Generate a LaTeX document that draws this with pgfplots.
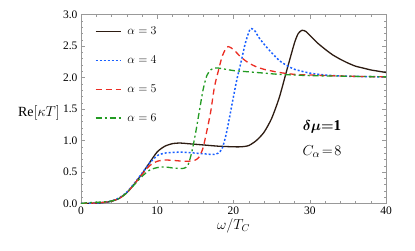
\documentclass[border=0pt]{standalone}
\usepackage{fontspec}
\setmainfont{Liberation Serif}
\usepackage{bm}
\usepackage{pgfplots}
\pgfplotsset{compat=1.18}
\usepackage{pgfplotstable}
\definecolor{cbrown}{RGB}{45,28,18}
\definecolor{cblue}{RGB}{25,95,255}
\definecolor{cred}{RGB}{235,45,35}
\definecolor{cgreen}{RGB}{35,155,35}
\pgfplotstableread{
w r
0 0
1 0.002
2 0.006
3 0.015
4 0.035
5 0.08
6 0.17
7 0.31
8 0.47
9 0.65
10 0.82
11 0.91
12 0.95
13 0.96
14 0.95
16 0.93
18 0.91
20 0.90
21 0.90
22 0.92
23 1.00
24 1.13
25 1.35
26 1.68
27 2.12
28 2.55
28.5 2.70
29 2.75
29.5 2.73
30 2.67
31 2.55
32 2.45
33 2.36
34 2.29
35 2.23
36 2.18
37 2.15
38 2.12
39 2.10
40 2.08
}\tabA
\pgfplotstableread{
w r
0 0
1 0.003
2 0.008
3 0.018
4 0.04
5 0.09
6 0.18
7 0.32
8 0.48
9 0.64
10 0.76
11 0.80
12 0.81
13 0.815
14 0.81
15 0.80
16 0.79
17 0.78
17.5 0.78
18 0.80
18.5 0.87
19 1.08
19.5 1.38
20 1.70
20.5 2.00
21 2.25
21.5 2.52
22 2.72
22.3 2.78
22.8 2.74
23.3 2.64
24 2.53
24.8 2.42
26 2.27
27 2.19
28 2.13
30 2.07
32 2.04
35 2.02
40 2.01
}\tabB
\pgfplotstableread{
w r
0 0
1 0.004
2 0.01
3 0.02
4 0.04
5 0.08
6 0.17
7 0.31
8 0.46
9 0.60
10 0.67
11 0.69
12 0.685
13 0.675
14 0.67
15 0.69
15.5 0.74
16 0.88
16.5 1.15
17 1.45
17.5 1.85
18 2.10
18.5 2.33
19 2.46
19.3 2.49
19.7 2.47
20.2 2.42
21 2.32
22 2.23
23 2.17
24 2.13
26 2.08
28 2.05
30 2.04
35 2.02
40 2.01
}\tabC
\pgfplotstableread{
w r
0 0
1 0.015
2 0.02
3 0.025
4 0.04
5 0.08
6 0.17
7 0.30
8 0.43
9 0.53
10 0.57
11 0.58
12 0.565
13 0.555
13.5 0.56
14 0.60
14.5 0.80
15 1.10
15.5 1.45
16 1.80
16.5 2.03
17 2.12
17.5 2.15
18 2.15
19 2.13
20 2.11
22 2.09
24 2.07
26 2.05
30 2.03
35 2.02
40 2.01
}\tabD
\begin{document}
\begin{tikzpicture}
\useasboundingbox (-81pt,-46.5pt) rectangle (334pt,203.5pt);
\begin{axis}[
  at={(0,0)}, anchor=south west,
  scale only axis, width=305pt, height=189pt,
  xmin=0, xmax=40, ymin=0, ymax=3,
  xtick={0,10,20,30,40}, ytick={0,0.5,1,1.5,2,2.5,3},
  minor x tick num=4, minor y tick num=4,
  tick align=inside, major tick length=4pt, minor tick length=2.5pt,
  axis line style={gray!80}, every tick/.style={gray!80},
  /pgf/number format/assume math mode=true,
  tick label style={font=\fontsize{11.5}{13}\selectfont},
  yticklabel style={/pgf/number format/fixed, /pgf/number format/fixed zerofill, /pgf/number format/precision=1},
  xlabel={$\omega/T_C$},
  xlabel style={font=\fontsize{14}{16}\selectfont, yshift=3pt},
  ylabel={$\mathrm{Re}[\kappa T]$},
  every axis y label/.style={at={(rel axis cs:0,0.48)}, anchor=east, xshift=-21pt, font=\fontsize{14}{16}\selectfont, inner sep=0pt},
  legend style={at={(rel axis cs:0.035,0.955)}, anchor=north west, draw=none, fill=none,
    font=\fontsize{12}{14}\selectfont, row sep=15.5pt},
  legend cell align=left,
  legend image code/.code={\draw[#1] plot coordinates {(0pt,0pt) (25pt,0pt)};},
]
\addplot[color=cbrown, line width=1.3pt, smooth, tension=0.4] table[x=w,y=r]{\tabA};
\addlegendentry{\hspace{4pt}$\alpha = 3$}
\addplot[color=cblue, line width=1.5pt, dash pattern=on 2pt off 2pt, smooth, tension=0.4] table[x=w,y=r]{\tabB};
\addlegendentry{\hspace{4pt}$\alpha = 4$}
\addplot[color=cred, line width=1.3pt, dash pattern=on 6pt off 4pt, smooth, tension=0.4] table[x=w,y=r]{\tabC};
\addlegendentry{\hspace{4pt}$\alpha = 5$}
\addplot[color=cgreen, line width=1.3pt, dash pattern=on 6pt off 3pt on 2pt off 3pt, smooth, tension=0.4] table[x=w,y=r]{\tabD};
\addlegendentry{\hspace{4pt}$\alpha = 6$}
\node[font=\fontsize{15}{18}\selectfont] at (axis cs:31.6,1.22) {$\bm{\delta\mu}{\bm{=}}\mathbf{1}$};
\node[font=\fontsize{15}{18}\selectfont] at (axis cs:31.6,0.82) {$C_\alpha\!=\!8$};
\end{axis}
\end{tikzpicture}
\end{document}
